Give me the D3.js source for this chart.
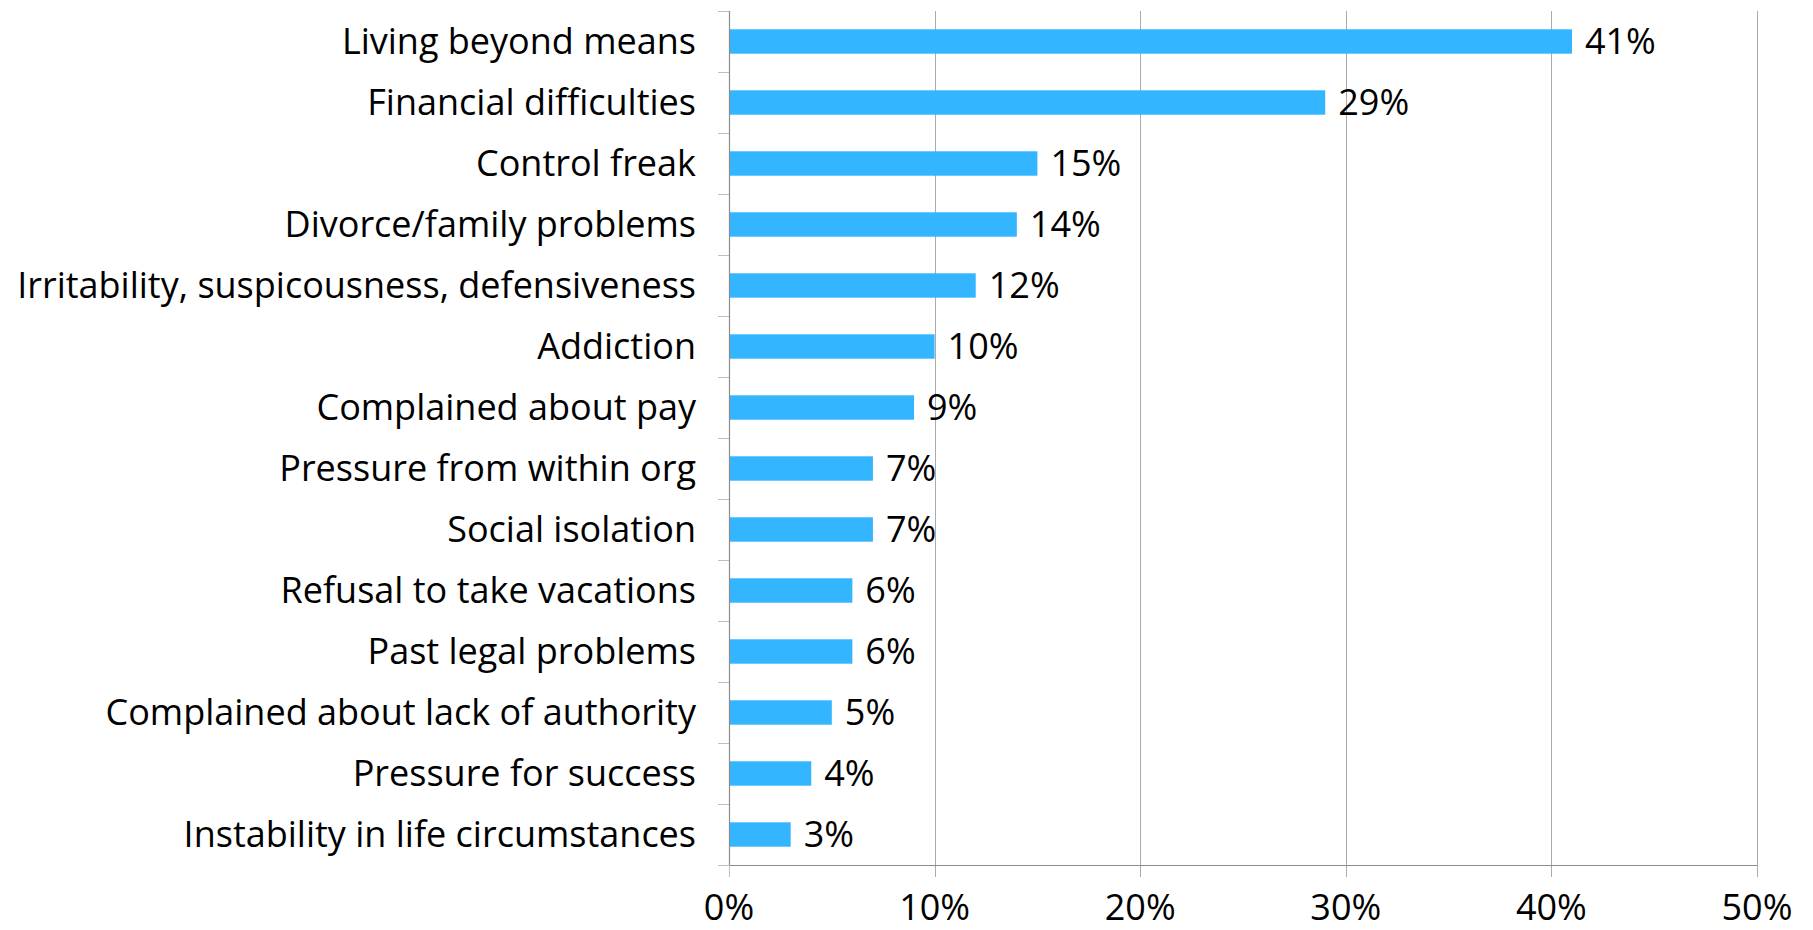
<!DOCTYPE html>
<html>
<head>
<meta charset="utf-8">
<script src="https://cdn.jsdelivr.net/npm/d3@7"></script>
<style>
  html, body { margin: 0; padding: 0; background: #fff; }
  svg { display: block; }
  text { font-family: "Open Sans", "Liberation Sans", sans-serif; fill: #000; }
</style>
</head>
<body>
<svg id="chart" width="1813" height="930"></svg>
<script>
// Warning signs displayed by perpetrators (share of cases)
const categories = [
  "Living beyond means",
  "Financial difficulties",
  "Control freak",
  "Divorce/family problems",
  "Irritability, suspicousness, defensiveness",
  "Addiction",
  "Complained about pay",
  "Pressure from within org",
  "Social isolation",
  "Refusal to take vacations",
  "Past legal problems",
  "Complained about lack of authority",
  "Pressure for success",
  "Instability in life circumstances"
];
const values = [41, 29, 15, 14, 12, 10, 9, 7, 7, 6, 6, 5, 4, 3];
const xTicks = [0, 10, 20, 30, 40, 50];

const svg = d3.select("#chart");
const margin = { top: 11, right: 56, bottom: 65, left: 729 };
const width = 1813 - margin.left - margin.right;
const height = 930 - margin.top - margin.bottom;
const fontSize = 36;

const g = svg.append("g").attr("transform", `translate(${margin.left},${margin.top})`);

const x = d3.scaleLinear().domain([0, 50]).range([0, width]);
const y = d3.scaleBand().domain(categories).range([0, height]).paddingInner(0.6).paddingOuter(0.3);

// vertical gridlines
g.append("g")
  .selectAll("line")
  .data(xTicks.filter(t => t > 0))
  .join("line")
  .attr("x1", d => Math.round(x(d)) + 0.5)
  .attr("x2", d => Math.round(x(d)) + 0.5)
  .attr("y1", 0)
  .attr("y2", height + 12)
  .attr("stroke", "#ababab")
  .attr("stroke-width", 1);

// bars
g.append("g")
  .selectAll("rect")
  .data(values)
  .join("rect")
  .attr("x", 0)
  .attr("y", (d, i) => y(categories[i]))
  .attr("width", d => x(d))
  .attr("height", y.bandwidth())
  .attr("fill", "#33b6ff");

// value labels
g.append("g")
  .selectAll("text")
  .data(values)
  .join("text")
  .attr("x", d => x(d) + 13)
  .attr("y", (d, i) => y(categories[i]) + y.bandwidth() / 2)
  .attr("dy", "0.36em")
  .style("font-size", fontSize + "px")
  .text(d => d + "%");

// category axis: tick marks between categories
const step = y.step();
const yBounds = d3.range(categories.length + 1).map(i => i * step);
g.append("g")
  .selectAll("line")
  .data(yBounds)
  .join("line")
  .attr("x1", -11)
  .attr("x2", 0)
  .attr("y1", d => Math.round(d) + 0.5)
  .attr("y2", d => Math.round(d) + 0.5)
  .attr("stroke", "#bfbfbf")
  .attr("stroke-width", 1);

g.append("g")
  .selectAll("text")
  .data(categories)
  .join("text")
  .attr("x", -33)
  .attr("y", d => y(d) + y.bandwidth() / 2)
  .attr("dy", "0.36em")
  .attr("text-anchor", "end")
  .style("font-size", fontSize + "px")
  .text(d => d);

// axis lines
g.append("line")
  .attr("x1", 0.5).attr("x2", 0.5)
  .attr("y1", 0).attr("y2", height)
  .attr("stroke", "#8c8c8c").attr("stroke-width", 1.2);

g.append("line")
  .attr("x1", 0).attr("x2", width)
  .attr("y1", height + 0.5).attr("y2", height + 0.5)
  .attr("stroke", "#8c8c8c").attr("stroke-width", 1.2);

// x tick marks and labels
g.append("g")
  .selectAll("line")
  .data([0])
  .join("line")
  .attr("x1", d => x(d) + 0.5).attr("x2", d => x(d) + 0.5)
  .attr("y1", height).attr("y2", height + 12)
  .attr("stroke", "#bfbfbf");

g.append("g")
  .selectAll("text")
  .data(xTicks)
  .join("text")
  .attr("x", d => x(d))
  .attr("y", height + 55)
  .attr("text-anchor", "middle")
  .style("font-size", fontSize + "px")
  .text(d => d + "%");
</script>
</body>
</html>
